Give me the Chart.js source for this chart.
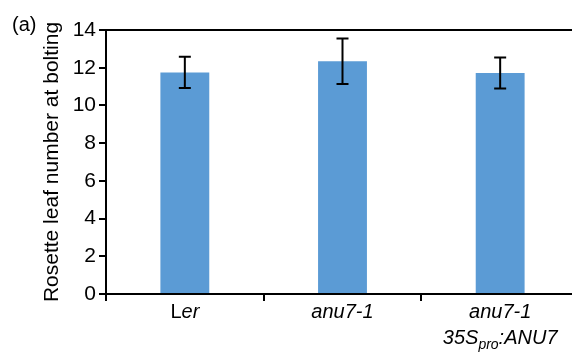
<!DOCTYPE html>
<html>
<head>
<meta charset="utf-8">
<script src="https://cdn.jsdelivr.net/npm/chart.js@4.4.0/dist/chart.umd.min.js"></script>
<style>
  html, body { margin: 0; padding: 0; background: #fff; overflow: hidden; }
  #wrap { position: relative; width: 580px; height: 354px; }
</style>
</head>
<body>
<div id="wrap"><canvas id="leafChart"></canvas></div>
<script>
// values
const categories = ["Ler", "anu7-1", "anu7-1 35Spro:ANU7"];
const leafMeans = [11.75, 12.34, 11.72];
const leafErrors = [0.83, 1.21, 0.82];
const yTicks = [0, 2, 4, 6, 8, 10, 12, 14];

const FONT = "'Liberation Sans', Arial, Helvetica, sans-serif";

// how each category label is typeset (upright / italic / subscript runs, one list per line)
function labelLines(label) {
  if (label === "Ler") return [[["L", "n"], ["er", "i"]]];
  if (label === "anu7-1") return [[["anu7-1", "i"]]];
  return [[["anu7-1", "i"]], [["35S", "i"], ["pro", "sub"], [":ANU7", "i"]]];
}

function runFont(style) {
  if (style === "sub") return "italic 14px " + FONT;
  if (style === "i") return "italic 20px " + FONT;
  return "20px " + FONT;
}

// error bars
const errorBarPlugin = {
  id: "errorBars",
  afterDatasetsDraw(chart) {
    const ctx = chart.ctx;
    const meta = chart.getDatasetMeta(0);
    const y = chart.scales.y;
    ctx.save();
    ctx.strokeStyle = "#000";
    ctx.lineWidth = 2;
    meta.data.forEach((bar, i) => {
      const top = y.getPixelForValue(leafMeans[i] + leafErrors[i]);
      const bot = y.getPixelForValue(leafMeans[i] - leafErrors[i]);
      ctx.beginPath();
      ctx.moveTo(bar.x, top);
      ctx.lineTo(bar.x, bot);
      ctx.moveTo(bar.x - 6, top);
      ctx.lineTo(bar.x + 6, top);
      ctx.moveTo(bar.x - 6, bot);
      ctx.lineTo(bar.x + 6, bot);
      ctx.stroke();
    });
    ctx.restore();
  },
};

// category labels with mixed styles, plus the panel letter
const labelPlugin = {
  id: "richLabels",
  afterDraw(chart) {
    const ctx = chart.ctx;
    const x = chart.scales.x;
    const base = chart.chartArea.bottom;
    ctx.save();
    ctx.fillStyle = "#000";
    ctx.textBaseline = "alphabetic";
    ctx.textAlign = "left";
    categories.forEach((cat, i) => {
      const cx = x.getPixelForValue(i);
      labelLines(cat).forEach((runs, li) => {
        let w = 0;
        runs.forEach((r) => {
          ctx.font = runFont(r[1]);
          w += ctx.measureText(r[0]).width;
        });
        let px = cx - w / 2;
        const by = base + 24 + li * 26;
        runs.forEach((r) => {
          ctx.font = runFont(r[1]);
          ctx.fillText(r[0], px, r[1] === "sub" ? by + 5 : by);
          px += ctx.measureText(r[0]).width;
        });
      });
    });
    ctx.font = "20px " + FONT;
    ctx.textBaseline = "middle";
    ctx.fillText("(a)", 12, 25);
    ctx.restore();
  },
};

new Chart(document.getElementById("leafChart"), {
  type: "bar",
  data: {
    labels: categories,
    datasets: [
      {
        label: "Rosette leaf number",
        data: leafMeans,
        backgroundColor: "#5b9bd5",
        borderWidth: 0,
        categoryPercentage: 1,
        barPercentage: 0.31,
      },
    ],
  },
  options: {
    responsive: true,
    maintainAspectRatio: false,
    animation: false,
    layout: {
      padding: { top: 22, bottom: 53, left: 0, right: 1 },
    },
    plugins: {
      legend: { display: false },
      tooltip: { enabled: false },
    },
    scales: {
      x: {
        position: "bottom",
        grid: {
          display: true,
          drawOnChartArea: false,
          offset: true,
          tickLength: 7,
          lineWidth: 2,
          color: "#000",
        },
        border: { display: true, color: "#000", width: 2 },
        ticks: { display: false },
      },
      xTop: {
        type: "category",
        position: "top",
        labels: categories,
        grid: { display: false },
        border: { display: true, color: "#000", width: 2 },
        ticks: { display: false },
      },
      y: {
        min: 0,
        max: 14,
        afterBuildTicks: (scale) => {
          scale.ticks = yTicks.map((v) => ({ value: v }));
        },
        afterFit: (scale) => {
          scale.width = 106;
        },
        grid: {
          drawOnChartArea: false,
          tickLength: 7,
          lineWidth: 2,
          color: "#000",
        },
        border: { display: true, color: "#000", width: 2 },
        ticks: {
          color: "#000",
          padding: 3,
          font: { family: FONT, size: 21 },
        },
        title: {
          display: true,
          text: "Rosette leaf number at bolting",
          color: "#000",
          font: { family: FONT, size: 21 },
          padding: { top: 40, bottom: 0 },
        },
      },
    },
  },
  plugins: [errorBarPlugin, labelPlugin],
});
</script>
</body>
</html>
